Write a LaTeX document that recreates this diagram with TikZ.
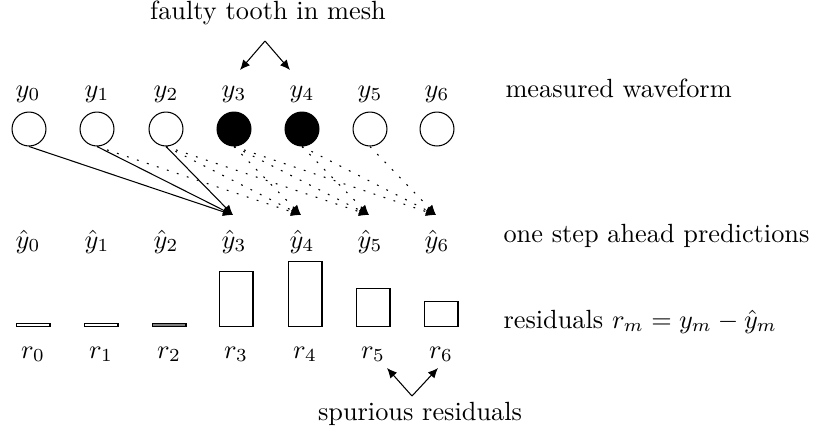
\documentclass[tikz,border=0pt]{standalone}
\usetikzlibrary{arrows.meta}
\begin{document}
\begin{tikzpicture}[x=0.38pt,y=-0.38pt,
  meas/.style={circle,draw,line width=0.4pt,minimum size=12.9pt,inner sep=0pt},
  fault/.style={meas,fill=black},
  lbl/.style={inner sep=0pt,anchor=base},
  side/.style={inner sep=0pt,anchor=base west},
  arr/.style={-{Latex[length=3.8pt,width=3.4pt]},line width=0.4pt},
  dotline/.style={arr,dash pattern=on 0.7pt off 3.3pt},
  barbox/.style={draw,line width=0.4pt,inner sep=0pt,minimum width=12.9pt,anchor=south}]
\useasboundingbox (0,0) rectangle (814,434);
% measured waveform
\foreach \i/\x in {0/29,1/97,2/166,5/370,6/437}{
  \node[meas] (c\i) at (\x,129) {};
}
\foreach \i/\x in {3/234,4/302}{
  \node[fault] (c\i) at (\x,129) {};
}
\foreach \i/\x in {0/28,1/97,2/166,3/234,4/302,5/370,6/437}{
  \node[lbl] (y\i) at (\x,97) {$y_{\i}$};
  \node[lbl] (h\i) at (\x,248) {$\hat{y}_{\i}$};
  \coordinate (t\i) at (\x-1,215);
}
% predictions
\foreach \j in {0,1,2}{ \draw[arr] (c\j.south) -- (t3); }
\foreach \j in {1,2,3}{ \draw[dotline] (c\j.south) -- (t4); }
\foreach \j in {2,3,4}{ \draw[dotline] (c\j.south) -- (t5); }
\foreach \j in {3,4,5}{ \draw[dotline] (c\j.south) -- (t6); }
% residual bars
\foreach \i/\x/\h in {0/33/1.2pt,1/101/1.2pt,3/236/20.9pt,4/305/24.7pt,5/373/14.4pt,6/441/9.5pt}{
  \node[barbox,minimum height=\h] (b\i) at (\x,327) {};
}
\node[barbox,minimum height=1.2pt,fill=gray] (b2) at (169,327) {};
\foreach \i/\x in {0/33,1/101,2/169,3/236,4/305,5/373,6/441}{
  \node[lbl] (r\i) at (\x,358) {$r_{\i}$};
}
% side labels
\node[side] (lm) at (505,97) {measured waveform};
\node[side] (lp) at (503,242) {one step ahead predictions};
\node[side] (lr) at (503,328) {residuals $r_m = y_m - \hat{y}_m$};
% faulty tooth
\node[lbl] (ft) at (268,19) {faulty tooth in mesh};
\coordinate (fa) at (265,41);
\coordinate (fa3) at (240,70);
\coordinate (fa4) at (290,70);
\draw[arr] (fa) -- (fa3);
\draw[arr] (fa) -- (fa4);
% spurious residuals
\node[lbl] (sr) at (420,420) {spurious residuals};
\coordinate (sa) at (412,396);
\coordinate (sa5) at (387,368);
\coordinate (sa6) at (438,368);
\draw[arr] (sa) -- (sa5);
\draw[arr] (sa) -- (sa6);
\end{tikzpicture}
\end{document}
